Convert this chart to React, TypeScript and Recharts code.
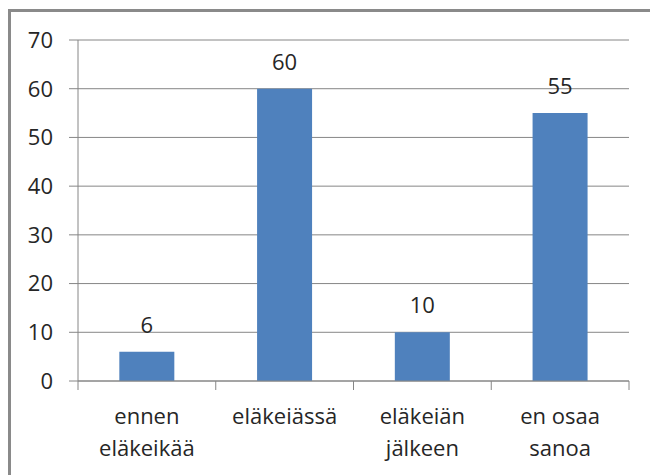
import { BarChart, Bar, XAxis, YAxis, CartesianGrid, LabelList } from 'recharts';

const categories = ['ennen\neläkeikää', 'eläkeiässä', 'eläkeiän\njälkeen', 'en osaa\nsanoa'];
const values = [6, 60, 10, 55];
const yTicks = [0, 10, 20, 30, 40, 50, 60, 70];

const data = categories.map((name, i) => ({ name, value: values[i] }));

const LINE = '#868686';
const TEXT = '#262626';
const FONT = '"Open Sans", sans-serif';

const CategoryTick = (props: any) => {
    const { x, y, payload, index, visibleTicksCount } = props;
    const half = payload.offset ?? 0;
    const lines = String(payload.value).split('\n');
    return (
        <g>
            <line x1={x - half} x2={x - half} y1={y} y2={y + 9} stroke={LINE} />
            {index === visibleTicksCount - 1 && (
                <line x1={x + half} x2={x + half} y1={y} y2={y + 9} stroke={LINE} />
            )}
            <text x={x} y={y + 43} textAnchor="middle" fill={TEXT} fontSize={22} fontFamily={FONT}>
                {lines.map((l, i) => (
                    <tspan key={i} x={x} dy={i === 0 ? 0 : 32}>{l}</tspan>
                ))}
            </text>
        </g>
    );
};

export default function App() {
    return (
        <div style={{ position: 'absolute', left: 0, top: 0, width: 650, height: 475, background: '#fff', overflow: 'hidden' }}>
            <div style={{ position: 'absolute', left: 8, top: 9, width: 700, height: 520, border: '3px solid #8a8a8a' }} />
            <div style={{ position: 'absolute', left: 0, top: 0 }}>
                <BarChart width={650} height={475} data={data} margin={{ top: 40, right: 21, left: 0, bottom: 0 }} barCategoryGap="30%">
                    <CartesianGrid vertical={false} stroke={LINE} />
                    <XAxis
                        dataKey="name"
                        height={94}
                        axisLine={{ stroke: LINE }}
                        tickLine={false}
                        tickSize={0}
                        tickMargin={0}
                        interval={0}
                        tick={<CategoryTick />}
                    />
                    <YAxis
                        width={78}
                        domain={[0, 70]}
                        ticks={yTicks}
                        interval={0}
                        axisLine={{ stroke: LINE }}
                        tickLine={{ stroke: LINE }}
                        tickSize={9}
                        tickMargin={16}
                        tick={{ fill: TEXT, fontSize: 22, fontFamily: FONT }}
                    />
                    <Bar dataKey="value" fill="#4f81bd" isAnimationActive={false}>
                        <LabelList dataKey="value" position="top" offset={19} fill={TEXT} fontSize={22} fontFamily={FONT} />
                    </Bar>
                </BarChart>
            </div>
        </div>
    );
}
